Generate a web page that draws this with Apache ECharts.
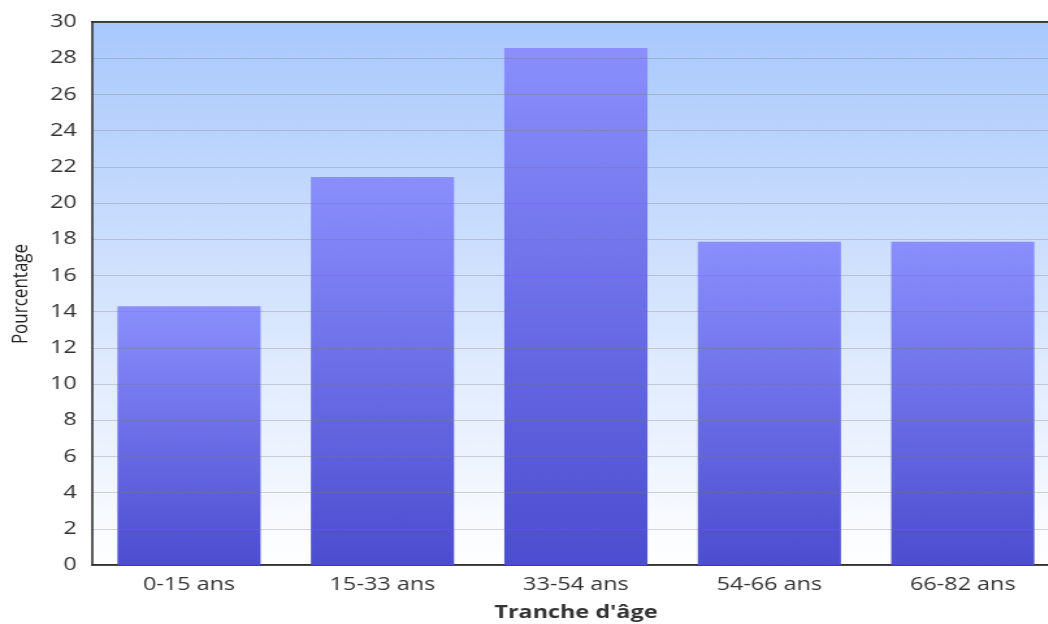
<!DOCTYPE html>
<html>
<head>
<meta charset="utf-8">
<script src="https://cdn.jsdelivr.net/npm/echarts@6/dist/echarts.min.js"></script>
<style>
  html, body { margin: 0; padding: 0; background: #fff; overflow: hidden; }
  #wrap { width: 1048px; height: 624px; overflow: hidden; }
  /* the reference is stretched horizontally, so draw narrow and stretch */
  #chart { width: 806px; height: 624px; transform: scaleX(1.3); transform-origin: 0 0; }
</style>
</head>
<body>
<div id="wrap"><div id="chart"></div></div>
<script>
  // tranches d'âge et pourcentages
  var categories = ['0-15 ans', '15-33 ans', '33-54 ans', '54-66 ans', '66-82 ans'];
  var values = [14.29, 21.43, 28.57, 17.86, 17.86];

  var myChart = echarts.init(document.getElementById('chart'));

  var option = {
    animation: false,
    textStyle: { fontFamily: 'Open Sans' },
    grid: {
      left: 71,
      width: 744,
      top: 22,
      bottom: 59,
      outerBoundsMode: 'none',
      show: true,
      borderWidth: 0,
      backgroundColor: new echarts.graphic.LinearGradient(0, 0, 0, 1, [
        { offset: 0, color: '#a8c8fc' },
        { offset: 1, color: '#ffffff' }
      ])
    },
    xAxis: {
      type: 'category',
      data: categories,
      name: "Tranche d'âge",
      nameLocation: 'middle',
      nameGap: 39,
      nameTextStyle: { fontFamily: 'Open Sans', fontWeight: 'bold', fontSize: 18, color: '#333' },
      axisLine: { show: true, lineStyle: { color: '#333', width: 2 } },
      axisTick: { show: false },
      axisLabel: { fontFamily: 'Open Sans', fontSize: 18, color: '#333', margin: 11 }
    },
    yAxis: {
      type: 'value',
      min: 0,
      max: 30,
      interval: 2,
      z: 3,
      axisLine: { show: true, lineStyle: { color: '#333', width: 1.6 } },
      axisTick: { show: false },
      axisLabel: { fontFamily: 'Open Sans', fontSize: 18, color: '#333', margin: 12 },
      splitLine: { show: true, lineStyle: { color: 'rgba(120,120,120,0.3)', width: 1 } }
    },
    series: [{
      type: 'bar',
      data: values,
      barWidth: '74%',
      itemStyle: {
        color: new echarts.graphic.LinearGradient(0, 0, 0, 1, [
          { offset: 0, color: '#8a8ffd' },
          { offset: 1, color: '#4c4dd0' }
        ])
      }
    }],
    graphic: [{
      // top border of the plot
      type: 'line',
      shape: { x1: 70, y1: 22, x2: 806, y2: 22 },
      style: { stroke: '#333', lineWidth: 2 }
    }, {
      // y axis title
      type: 'text',
      x: 16,
      y: 294,
      rotation: Math.PI / 2,
      style: {
        text: 'Pourcentage',
        fontFamily: 'Open Sans',
        fontSize: 17,
        fill: '#222',
        align: 'center',
        verticalAlign: 'middle'
      }
    }]
  };

  myChart.setOption(option);
</script>
</body>
</html>
